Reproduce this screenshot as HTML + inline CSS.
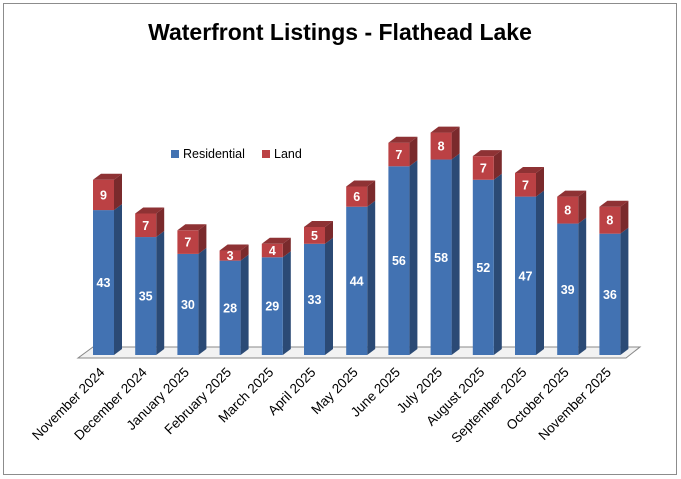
<!DOCTYPE html>
<html><head><meta charset="utf-8"><style>
body{margin:0;background:#fff;}
svg{display:block;font-family:"Liberation Sans",sans-serif;}
</style></head><body>
<svg id="chart" width="681" height="479">
<rect x="3.5" y="3.5" width="673" height="471" fill="#fff" stroke="#8c8c8c"/>
<text x="340" y="40" text-anchor="middle" font-size="23" font-weight="bold">Waterfront Listings - Flathead Lake</text>
<polygon points="78,358 626,358 640,347 93,347" fill="#f2f2f2" stroke="#888"/>
<g>
<rect x="171" y="150" width="8" height="8" fill="#4272b2"/>
<text x="183" y="158" font-size="12.5">Residential</text>
<rect x="262" y="150" width="8" height="8" fill="#bb4144"/>
<text x="274" y="158" font-size="12.5">Land</text>
</g>
<g id="bars"></g>
<g id="labels"></g>
</svg>
<script>
const categories=["November 2024","December 2024","January 2025","February 2025","March 2025","April 2025","May 2025","June 2025","July 2025","August 2025","September 2025","October 2025","November 2025"];
const residential=[43,35,30,28,29,33,44,56,58,52,47,39,36];
const land=[9,7,7,3,4,5,6,7,8,7,7,8,8];
const NS="http://www.w3.org/2000/svg";
const base=355,scale=3.37,x0=93,step=42.2,bw=21,dx=8,dy=6;
function xPos(i){return x0+i*step;}
function yPos(v){return base-v*scale;}
const g=document.getElementById('bars'),lg=document.getElementById('labels');
function mk(tag,attrs,parent){const e=document.createElementNS(NS,tag);for(const k in attrs)e.setAttribute(k,attrs[k]);parent.appendChild(e);return e;}
function seg(x,yb,yt,front,side,top,name,val){
  const grp=mk('g',{},g);
  
  
  mk('polygon',{points:`${x+bw},${yb} ${x+bw+dx},${yb-dy} ${x+bw+dx},${yt-dy} ${x+bw},${yt}`,fill:side},grp);
  mk('rect',{x:x,y:yt,width:bw,height:yb-yt,fill:front},grp);
  if(top)mk('polygon',{points:`${x},${yt} ${x+dx},${yt-dy} ${x+bw+dx},${yt-dy} ${x+bw},${yt}`,fill:top},grp);
  const t=mk('text',{x:x+bw/2,y:(yb+yt)/2+4.5,'text-anchor':'middle','font-size':12.5,'font-weight':'bold',fill:'#fff'},grp);
  t.textContent=val;
}
categories.forEach((c,i)=>{
  const x=xPos(i);
  const yr=yPos(residential[i]),yl=yPos(residential[i]+land[i]);
  seg(x,base,yr,'#4272b2','#2b4a75',null,'bar-residential-'+i,residential[i]);
  seg(x,yr,yl,'#bb4144','#7a2a2c','#8e3234','bar-land-'+i,land[i]);
  const cx=x+bw/2+2,cy=373;
  const t=mk('text',{x:cx,y:cy,'text-anchor':'end','font-size':13.5,transform:`rotate(-45 ${cx} ${cy})`},lg);
  
  
  t.textContent=c;
});
</script>
</body></html>
